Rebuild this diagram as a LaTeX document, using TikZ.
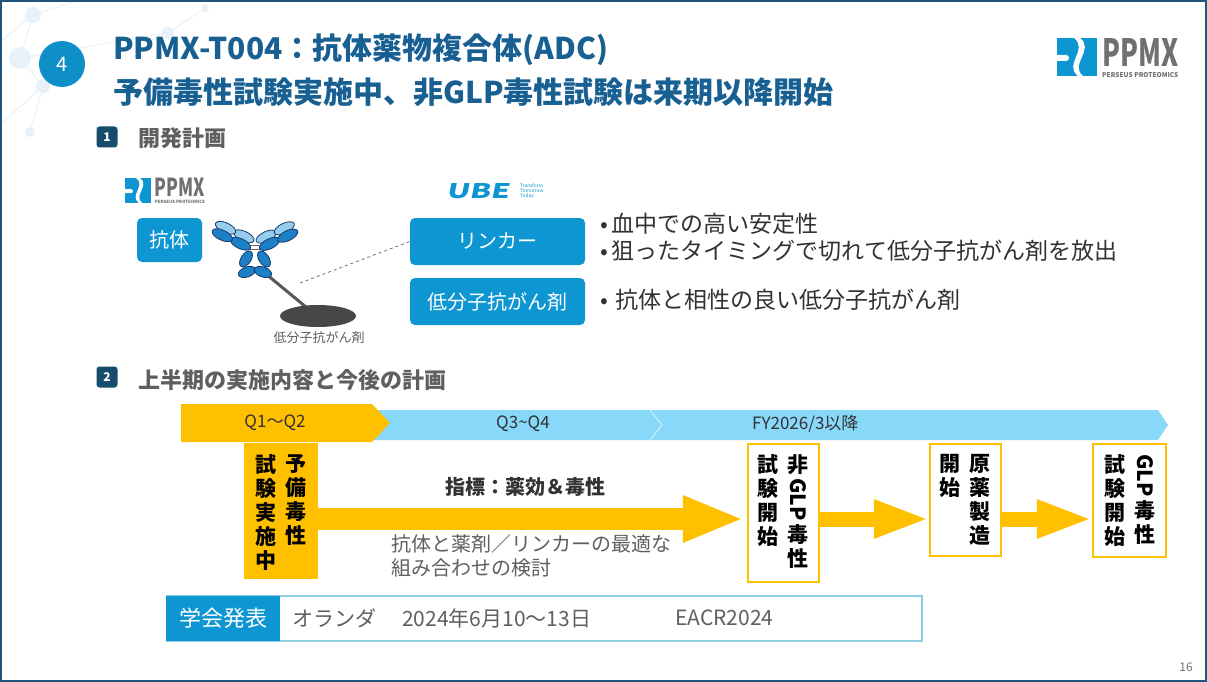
\documentclass[tikz,border=0pt]{standalone}
\usepackage{fontspec}
\usepackage{graphicx}
\setmainfont{Noto Sans CJK JP}
\usetikzlibrary{arrows.meta,positioning}
\setlength{\lineskip}{4pt}

\definecolor{titleblue}{RGB}{24,96,146}
\definecolor{ppmxblue}{RGB}{14,150,210}
\definecolor{navy}{RGB}{22,76,108}
\definecolor{amber}{RGB}{255,192,0}
\definecolor{sky}{RGB}{136,216,250}
\definecolor{inkgray}{RGB}{50,50,50}
\definecolor{softgray}{RGB}{95,95,95}
\definecolor{logogray}{RGB}{112,112,112}
\definecolor{framecol}{RGB}{32,84,124}
\definecolor{haze}{RGB}{232,241,247}
\definecolor{abdark}{RGB}{28,128,200}
\definecolor{ablight}{RGB}{150,205,236}
\definecolor{abline}{RGB}{22,58,105}
\definecolor{confline}{RGB}{140,205,225}

\newcommand{\rotlatin}[1]{\rotatebox[origin=c]{-90}{#1}}

\begin{document}
\begin{tikzpicture}[x=1pt,y=-1pt,
  f/.style={font=\fontsize{#1}{#1}\selectfont},
  bluebox/.style={fill=ppmxblue, rounded corners=5pt, text=white, inner sep=0pt,
    font=\fontsize{20}{24}\selectfont},
  yelbox/.style={draw=amber, line width=2.5pt, fill=white, inner sep=0pt},
  tcol/.style={anchor=north, align=center, inner sep=0pt, text=black,
    font=\fontsize{21}{24}\selectfont\bfseries},
  secmark/.style={fill=navy, rounded corners=3pt, text=white, minimum size=21pt,
    inner sep=0pt, font=\fontsize{12}{12}\selectfont\bfseries},
  sectitle/.style={anchor=west, text=softgray, inner sep=0pt,
    font=\fontsize{22}{26}\selectfont\bfseries},
  tl/.style={text=inkgray, inner sep=0pt, font=\fontsize{17}{20}\selectfont},
  bigarrow/.style={amber, line width=22pt, shorten >=6pt,
    -{Triangle[length=58pt,width=48pt,line width=0pt]}},
  midarrow/.style={amber, line width=15pt, shorten >=3pt,
    -{Triangle[length=52pt,width=40pt,line width=0pt]}},
  ablobe/.style={draw=abline, line width=0.8pt}]

\useasboundingbox (0,0) rectangle (1207,682);
\fill[white] (0,0) rectangle (1207,682);

\begin{scope}[draw=haze, line width=1pt]
  \draw (0,42) -- (33,15) -- (80,0);
  \draw (33,15) -- (20,58) -- (43,86) -- (0,125);
  \draw (20,58) -- (168,33) -- (205,8);
  \draw (43,86) -- (30,132);
  \fill[haze] (33,15) circle (8) (20,58) circle (11) (168,33) circle (6)
    (205,8) circle (4) (43,86) circle (7) (30,132) circle (5);
\end{scope}
\draw[framecol, line width=2pt] (1,1) rectangle (1206,681);

\node[circle, fill=ppmxblue!90!navy, minimum size=46pt, inner sep=0pt, text=white,
  font=\fontsize{20}{20}\selectfont] (num) at (62,64) {4};
\node[anchor=west, inner sep=0pt, text=titleblue, font=\fontsize{30}{34}\selectfont\bfseries]
  (title1) at (113,50) {PPMX-T004：抗体薬物複合体(ADC)};
\node[anchor=west, inner sep=0pt, text=titleblue, font=\fontsize{30}{34}\selectfont\bfseries]
  (title2) at (113,92) {予備毒性試験実施中、非GLP毒性試験は来期以降開始};

\foreach \lx/\ly/\ls in {1057/38/1, 125/178/0.66}{
  \begin{scope}[shift={(\lx,\ly)}, scale=\ls, transform shape]
    \fill[ppmxblue] (0,0) rectangle (40,38);
    \fill[white] (17,0) .. controls (32,12) and (6,26) .. (21,38) -- (26,38)
      .. controls (12,26) and (38,12) .. (23,0) -- cycle;
    \fill[white] (0,17) -- (9,17) .. controls (13,17) and (13,23) .. (9,23) -- (0,23) -- cycle;
    \node[anchor=north west, inner sep=0pt, text=logogray] (logo\lx) at (45,0)
      {\resizebox{76pt}{28pt}{\bfseries PPMX}};
    \node[anchor=north west, inner sep=0pt, text=logogray] (logosub\lx) at (45,34)
      {\resizebox{76pt}{5pt}{\bfseries PERSEUS PROTEOMICS}};
  \end{scope}
}

\node[secmark] (sec1) at (107,137) {1};
\node[sectitle] (sec1t) at (138,138) {開発計画};

\node[bluebox, minimum width=65pt, minimum height=44pt] (antibody) at (169.5,240) {抗体};

% antibody sketch
\draw[line width=3pt, black!65] (266,274) -- (312,312);
\fill[black!72] (318,316) ellipse [x radius=38pt, y radius=11pt];
\foreach \cx/\cy/\rot/\col in {
  243.9/236.3/-25/ablight, 225.6/227.8/-25/ablight,
  240.5/243.7/-25/abdark, 222.2/235.2/-25/abdark,
  266.2/236.6/26/ablight, 284.3/228.3/26/ablight,
  269.5/243.9/26/abdark, 287.7/235.7/26/abdark}{
  \filldraw[ablobe, fill=\col, rotate around={\rot:(\cx,\cy)}]
    (\cx,\cy) ellipse [x radius=11pt, y radius=5pt];
}
\foreach \cx/\cy/\rot in {246/259/57, 264/259/-57, 247/272/20, 263/272/-20}{
  \filldraw[ablobe, fill=abdark, rotate around={\rot:(\cx,\cy)}]
    (\cx,\cy) ellipse [x radius=9pt, y radius=5pt];
}
\draw[black!60, line width=1pt] (250,245) -- (260,245) (250,249) -- (260,249);
\node[text=softgray, inner sep=0pt, f=13] (payload) at (319,338) {低分子抗がん剤};

\node[anchor=north west, inner sep=0pt, text=ppmxblue, xslant=0.2] (ube) at (449,183)
  {\resizebox{63pt}{15pt}{\bfseries UBE}};
\node[anchor=north west, inner sep=0pt, align=left, text=ppmxblue,
  font=\fontsize{4.8}{5.2}\selectfont] (ubetag) at (520,183) {Transform\\Tomorrow\\Today};

\node[bluebox, minimum width=175pt, minimum height=47pt] (linker) at (497.5,241.5) {リンカー};
\node[bluebox, minimum width=175pt, minimum height=47pt] (drug) at (497.5,301.5) {低分子抗がん剤};
\coordinate (dashfoot) at (300,283);
\draw[dashed, black!55, line width=0.8pt] (dashfoot) -- (linker.west);

\node[anchor=west, inner sep=0pt, align=left, text=inkgray,
  font=\fontsize{23}{27}\selectfont] (linkpts) at (600,237.5)
  {•\,血中での高い安定性\\•\,狙ったタイミングで切れて低分子抗がん剤を放出};
\node[anchor=west, inner sep=0pt, text=inkgray, font=\fontsize{23}{27}\selectfont]
  (drugpts) at (600,300) {•\hspace{7pt}抗体と相性の良い低分子抗がん剤};

\node[secmark] (sec2) at (107,377) {2};
\node[sectitle] (sec2t) at (138,380) {上半期の実施内容と今後の計画};

% schedule band
\fill[sky] (370,410) -- (1158,410) -- (1168,425) -- (1158,440) -- (370,440) -- cycle;
\draw[white, opacity=0.6, line width=1pt] (650,410) -- (662,425) -- (650,440);
\fill[amber] (181,404) -- (372,404) -- (390,423) -- (372,442) -- (181,442) -- cycle;
\node[tl] (q12) at (275,423) {Q1～Q2};
\node[tl] (q34) at (523,424) {Q3\textasciitilde Q4};
\node[tl, anchor=west] (fy) at (752,424) {FY2026/3以降};

\node[yelbox, fill=amber, minimum width=72pt, minimum height=134pt] (b1) at (281,511) {};
\node[yelbox, minimum width=71pt, minimum height=138pt] (b2) at (783.5,513) {};
\node[yelbox, minimum width=71pt, minimum height=112pt] (b3) at (965.5,500) {};
\node[yelbox, minimum width=73pt, minimum height=113pt] (b4) at (1129.5,500.5) {};

\node[tcol] (b1r) at (296,454) {予\\備\\毒\\性};
\node[tcol] (b1l) at (266,454) {試\\験\\実\\施\\中};
\node[tcol] (b2r) at (798,454) {非\\\rotlatin{GLP}\\毒\\性};
\node[tcol] (b2l) at (768,454) {試\\験\\開\\始};
\node[tcol] (b3r) at (980,454) {原\\薬\\製\\造};
\node[tcol] (b3l) at (950,454) {開\\始};
\node[tcol] (b4r) at (1145,454) {\rotlatin{GLP}\\毒\\性};
\node[tcol] (b4l) at (1115,454) {試\\験\\開\\始};

\coordinate (arow) at (0,519);
\draw[bigarrow] (b1.east |- arow) -- (b2.west |- arow);
\draw[midarrow] (b2.east |- arow) -- (b3.west |- arow);
\draw[midarrow] (b3.east |- arow) -- (b4.west |- arow);

\node[inner sep=0pt, text=inkgray, font=\fontsize{20}{24}\selectfont\bfseries]
  (kpi) at (525,487) {指標：薬効＆毒性};
\node[anchor=north west, inner sep=0pt, align=left, text=softgray,
  font=\fontsize{20}{24}\selectfont] (study) at (391,534)
  {抗体と薬剤／リンカーの最適な\\組み合わせの検討};

% conference
\node[draw=confline, line width=1.5pt, minimum width=755pt, minimum height=45pt,
  inner sep=0pt] (confbar) at (544.5,618.5) {};
\node[fill=ppmxblue, minimum width=114pt, minimum height=45pt, inner sep=0pt,
  anchor=west, text=white, font=\fontsize{22}{26}\selectfont] (conftag)
  at (confbar.west) {学会発表};
\node[anchor=west, inner sep=0pt, text=softgray, font=\fontsize{21}{24}\selectfont]
  (confplace) at (292,618) {オランダ};
\node[anchor=west, inner sep=0pt, text=softgray, font=\fontsize{21}{24}\selectfont]
  (confdate) at (402,618) {2024年6月10～13日};
\node[anchor=west, inner sep=0pt, text=softgray, font=\fontsize{21}{24}\selectfont]
  (confname) at (675,618) {EACR2024};

\node[text=black!55, inner sep=0pt, f=12] (pgno) at (1186,667) {16};
\end{tikzpicture}
\end{document}
